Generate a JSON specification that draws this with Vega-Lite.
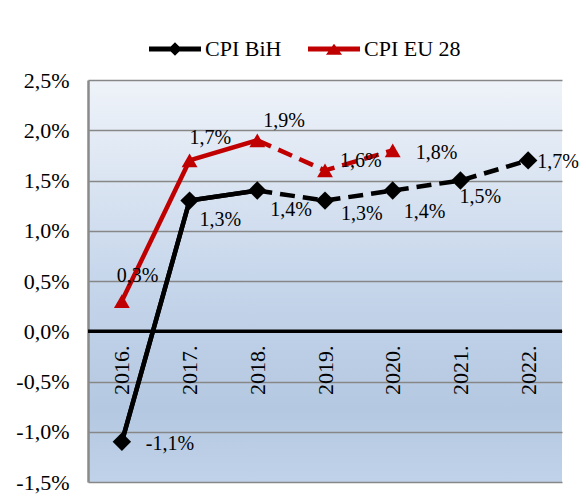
{
  "$schema": "https://vega.github.io/schema/vega-lite/v6.json",
  "width": 474,
  "height": 402,
  "autosize": {"type": "none"},
  "padding": {"left": 88, "top": 80, "right": 24, "bottom": 22},
  "background": "white",
  "config": {
    "locale": {"number": {"decimal": ",", "thousands": ".", "grouping": [3], "currency": ["", " €"], "minus": "-"}},
    "font": "Liberation Serif",
    "view": {
      "stroke": null,
      "fill": {
        "gradient": "linear", "x1": 0, "y1": 0, "x2": 0, "y2": 1,
        "stops": [
          {"offset": 0, "color": "#eff3f9"},
          {"offset": 0.5, "color": "#c6d6eb"},
          {"offset": 0.82, "color": "#b4c8e1"},
          {"offset": 1, "color": "#c0d2e9"}
        ]
      }
    }
  },
  "datasets": {
    "cpi": [
      {"year": 2016, "series": "CPI BiH", "value": -0.011},
      {"year": 2017, "series": "CPI BiH", "value": 0.013},
      {"year": 2018, "series": "CPI BiH", "value": 0.014},
      {"year": 2019, "series": "CPI BiH", "value": 0.013},
      {"year": 2020, "series": "CPI BiH", "value": 0.014},
      {"year": 2021, "series": "CPI BiH", "value": 0.015},
      {"year": 2022, "series": "CPI BiH", "value": 0.017},
      {"year": 2016, "series": "CPI EU 28", "value": 0.003},
      {"year": 2017, "series": "CPI EU 28", "value": 0.017},
      {"year": 2018, "series": "CPI EU 28", "value": 0.019},
      {"year": 2019, "series": "CPI EU 28", "value": 0.016},
      {"year": 2020, "series": "CPI EU 28", "value": 0.018}
    ]
  },
  "data": {"name": "cpi"},
  "layer": [
    {
      "mark": {"type": "line", "strokeWidth": 4.5, "color": "#000000"},
      "transform": [{"filter": "datum.series == 'CPI BiH' && datum.year <= 2018"}],
      "encoding": {
        "x": {
          "field": "year", "type": "ordinal",
          "scale": {"type": "point", "padding": 0.5},
          "axis": {
            "title": null, "domain": false, "ticks": false, "grid": false,
            "labelAngle": 270, "labelFontSize": 22, "labelFont": "Liberation Serif",
            "labelColor": "#000000", "labelPadding": 15, "offset": -152,
            "labelExpr": "datum.label + '.'"
          }
        },
        "y": {
          "field": "value", "type": "quantitative",
          "scale": {"domain": [-0.015, 0.025], "nice": false, "zero": false},
          "axis": {
            "title": null, "format": ".1%",
            "values": [-0.015, -0.01, -0.005, 0, 0.005, 0.01, 0.015, 0.02, 0.025],
            "grid": true, "gridColor": "#878787", "gridWidth": 1.5,
            "domain": true, "domainColor": "#8a8a8a", "domainWidth": 2.5,
            "ticks": false, "labelFontSize": 22, "labelFont": "Liberation Serif",
            "labelColor": "#000000", "labelPadding": 19
          }
        }
      }
    },
    {
      "mark": {"type": "rule", "color": "#000000", "strokeWidth": 3.5},
      "data": {"values": [{"z": 0}]},
      "encoding": {"y": {"field": "z", "type": "quantitative"}}
    },
    {
      "mark": {"type": "line", "strokeWidth": 4.5, "color": "#000000"},
      "transform": [{"filter": "datum.series == 'CPI BiH' && datum.year <= 2018"}],
      "encoding": {"x": {"field": "year", "type": "ordinal"}, "y": {"field": "value", "type": "quantitative"}}
    },
    {
      "mark": {"type": "line", "strokeWidth": 4.5, "color": "#000000", "strokeDash": [15, 8]},
      "transform": [{"filter": "datum.series == 'CPI BiH' && datum.year >= 2018"}],
      "encoding": {"x": {"field": "year", "type": "ordinal"}, "y": {"field": "value", "type": "quantitative"}}
    },
    {
      "mark": {"type": "line", "strokeWidth": 4.5, "color": "#c00000"},
      "transform": [{"filter": "datum.series == 'CPI EU 28' && datum.year <= 2018"}],
      "encoding": {"x": {"field": "year", "type": "ordinal"}, "y": {"field": "value", "type": "quantitative"}}
    },
    {
      "mark": {"type": "line", "strokeWidth": 4.5, "color": "#c00000", "strokeDash": [15, 8]},
      "transform": [{"filter": "datum.series == 'CPI EU 28' && datum.year >= 2018"}],
      "encoding": {"x": {"field": "year", "type": "ordinal"}, "y": {"field": "value", "type": "quantitative"}}
    },
    {
      "mark": {"type": "point", "filled": true, "size": 1},
      "encoding": {
        "x": {"field": "year", "type": "ordinal"},
        "y": {"field": "value", "type": "quantitative"},
        "color": {
          "field": "series", "type": "nominal",
          "scale": {"domain": ["CPI BiH", "CPI EU 28"], "range": ["#000000", "#c00000"]},
          "legend": {
            "orient": "none", "legendX": 60, "legendY": -58, "direction": "horizontal",
            "title": null, "symbolSize": 2704, "symbolOpacity": 1,
            "labelFontSize": 22, "labelFont": "Liberation Serif", "labelColor": "#000000",
            "labelOffset": 3, "columnPadding": 23
          }
        },
        "shape": {
          "field": "series", "type": "nominal",
          "scale": {
            "domain": ["CPI BiH", "CPI EU 28"],
            "range": [
              "M-1,-0.1H1V0.1H-1Z M-0.26,0L0,-0.26L0.26,0L0,0.26Z",
              "M-1,-0.1H1V0.1H-1Z M-0.31,0.22L0,-0.2L0.31,0.22Z"
            ]
          },
          "legend": {
            "orient": "none", "legendX": 60, "legendY": -58, "direction": "horizontal",
            "title": null, "symbolSize": 2704, "symbolOpacity": 1,
            "labelFontSize": 22, "labelFont": "Liberation Serif", "labelColor": "#000000",
            "labelOffset": 3, "columnPadding": 23
          }
        }
      }
    },
    {
      "mark": {"type": "point", "shape": "diamond", "filled": true, "size": 340, "color": "#000000", "opacity": 1},
      "transform": [{"filter": "datum.series == 'CPI BiH'"}],
      "encoding": {"x": {"field": "year", "type": "ordinal"}, "y": {"field": "value", "type": "quantitative"}}
    },
    {
      "mark": {"type": "point", "shape": "triangle-up", "filled": true, "size": 250, "color": "#c00000", "opacity": 1},
      "transform": [{"filter": "datum.series == 'CPI EU 28'"}],
      "encoding": {"x": {"field": "year", "type": "ordinal"}, "y": {"field": "value", "type": "quantitative"}}
    },
    {"mark": {"type": "text", "font": "Liberation Serif", "fontSize": 20, "color": "#000000", "align": "left", "baseline": "middle", "dx": 24, "dy": 2}, "transform": [{"filter": "datum.series == 'CPI BiH' && datum.year == 2016"}],
     "encoding": {"x": {"field": "year", "type": "ordinal"}, "y": {"field": "value", "type": "quantitative"}, "text": {"field": "value", "type": "quantitative", "format": ".1%"}}},
    {"mark": {"type": "text", "font": "Liberation Serif", "fontSize": 20, "color": "#000000", "align": "left", "baseline": "middle", "dx": 10, "dy": 19}, "transform": [{"filter": "datum.series == 'CPI BiH' && datum.year == 2017"}],
     "encoding": {"x": {"field": "year", "type": "ordinal"}, "y": {"field": "value", "type": "quantitative"}, "text": {"field": "value", "type": "quantitative", "format": ".1%"}}},
    {"mark": {"type": "text", "font": "Liberation Serif", "fontSize": 20, "color": "#000000", "align": "left", "baseline": "middle", "dx": 13, "dy": 19}, "transform": [{"filter": "datum.series == 'CPI BiH' && datum.year == 2018"}],
     "encoding": {"x": {"field": "year", "type": "ordinal"}, "y": {"field": "value", "type": "quantitative"}, "text": {"field": "value", "type": "quantitative", "format": ".1%"}}},
    {"mark": {"type": "text", "font": "Liberation Serif", "fontSize": 20, "color": "#000000", "align": "left", "baseline": "middle", "dx": 16, "dy": 13}, "transform": [{"filter": "datum.series == 'CPI BiH' && datum.year == 2019"}],
     "encoding": {"x": {"field": "year", "type": "ordinal"}, "y": {"field": "value", "type": "quantitative"}, "text": {"field": "value", "type": "quantitative", "format": ".1%"}}},
    {"mark": {"type": "text", "font": "Liberation Serif", "fontSize": 20, "color": "#000000", "align": "left", "baseline": "middle", "dx": 11, "dy": 21}, "transform": [{"filter": "datum.series == 'CPI BiH' && datum.year == 2020"}],
     "encoding": {"x": {"field": "year", "type": "ordinal"}, "y": {"field": "value", "type": "quantitative"}, "text": {"field": "value", "type": "quantitative", "format": ".1%"}}},
    {"mark": {"type": "text", "font": "Liberation Serif", "fontSize": 20, "color": "#000000", "align": "left", "baseline": "middle", "dx": -1, "dy": 16}, "transform": [{"filter": "datum.series == 'CPI BiH' && datum.year == 2021"}],
     "encoding": {"x": {"field": "year", "type": "ordinal"}, "y": {"field": "value", "type": "quantitative"}, "text": {"field": "value", "type": "quantitative", "format": ".1%"}}},
    {"mark": {"type": "text", "font": "Liberation Serif", "fontSize": 20, "color": "#000000", "align": "left", "baseline": "middle", "dx": 9, "dy": 2}, "transform": [{"filter": "datum.series == 'CPI BiH' && datum.year == 2022"}],
     "encoding": {"x": {"field": "year", "type": "ordinal"}, "y": {"field": "value", "type": "quantitative"}, "text": {"field": "value", "type": "quantitative", "format": ".1%"}}},
    {"mark": {"type": "text", "font": "Liberation Serif", "fontSize": 20, "color": "#000000", "align": "left", "baseline": "middle", "dx": -5, "dy": -25}, "transform": [{"filter": "datum.series == 'CPI EU 28' && datum.year == 2016"}],
     "encoding": {"x": {"field": "year", "type": "ordinal"}, "y": {"field": "value", "type": "quantitative"}, "text": {"field": "value", "type": "quantitative", "format": ".1%"}}},
    {"mark": {"type": "text", "font": "Liberation Serif", "fontSize": 20, "color": "#000000", "align": "left", "baseline": "middle", "dx": 0, "dy": -22}, "transform": [{"filter": "datum.series == 'CPI EU 28' && datum.year == 2017"}],
     "encoding": {"x": {"field": "year", "type": "ordinal"}, "y": {"field": "value", "type": "quantitative"}, "text": {"field": "value", "type": "quantitative", "format": ".1%"}}},
    {"mark": {"type": "text", "font": "Liberation Serif", "fontSize": 20, "color": "#000000", "align": "left", "baseline": "middle", "dx": 6, "dy": -19}, "transform": [{"filter": "datum.series == 'CPI EU 28' && datum.year == 2018"}],
     "encoding": {"x": {"field": "year", "type": "ordinal"}, "y": {"field": "value", "type": "quantitative"}, "text": {"field": "value", "type": "quantitative", "format": ".1%"}}},
    {"mark": {"type": "text", "font": "Liberation Serif", "fontSize": 20, "color": "#000000", "align": "left", "baseline": "middle", "dx": 15, "dy": -9}, "transform": [{"filter": "datum.series == 'CPI EU 28' && datum.year == 2019"}],
     "encoding": {"x": {"field": "year", "type": "ordinal"}, "y": {"field": "value", "type": "quantitative"}, "text": {"field": "value", "type": "quantitative", "format": ".1%"}}},
    {"mark": {"type": "text", "font": "Liberation Serif", "fontSize": 20, "color": "#000000", "align": "left", "baseline": "middle", "dx": 23, "dy": 3}, "transform": [{"filter": "datum.series == 'CPI EU 28' && datum.year == 2020"}],
     "encoding": {"x": {"field": "year", "type": "ordinal"}, "y": {"field": "value", "type": "quantitative"}, "text": {"field": "value", "type": "quantitative", "format": ".1%"}}}
  ]
}
